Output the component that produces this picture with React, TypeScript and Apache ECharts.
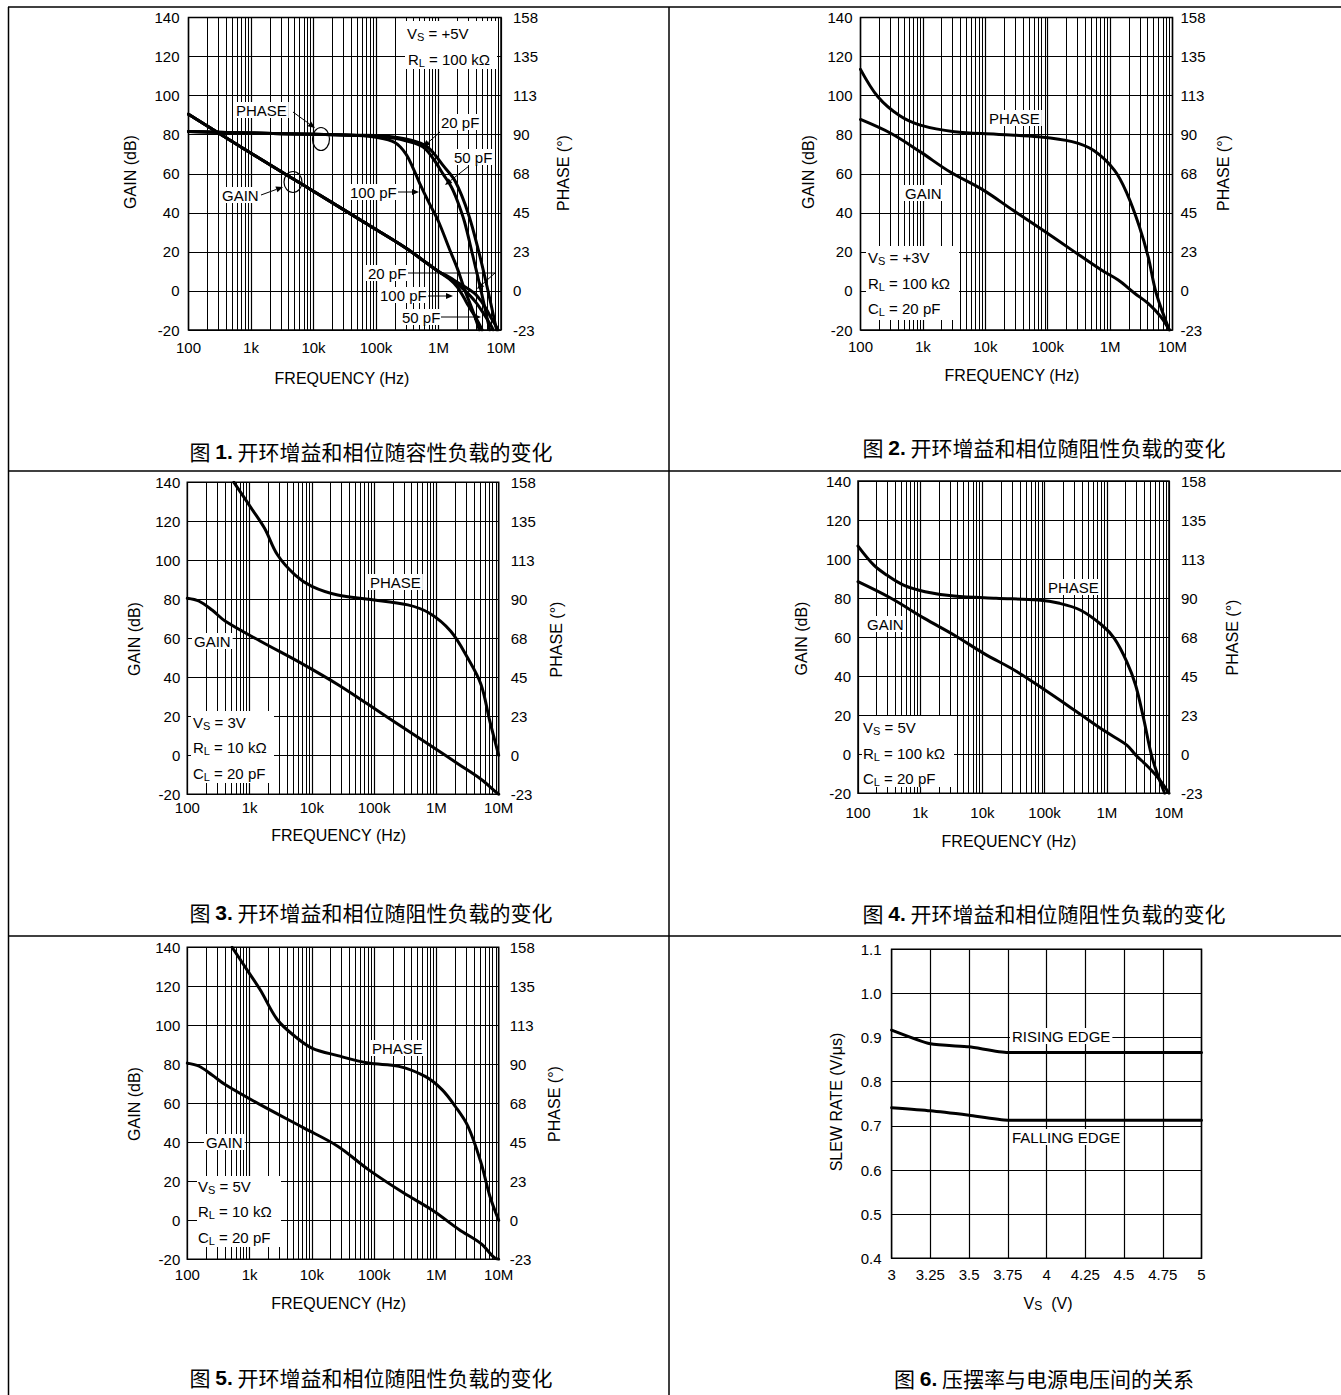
import React, { useEffect, useRef } from 'react';
import * as echarts from 'echarts';

const FONT = '"Liberation Sans", Arial, Helvetica, sans-serif';
const CJK = '"Noto Sans CJK SC", "Noto Sans", sans-serif';

// ---------- tick labels ----------
const FREQ_TICKS = [100, 1e3, 1e4, 1e5, 1e6, 1e7];
const FREQ_TICK_LABELS = ['100', '1k', '10k', '100k', '1M', '10M'];
const MINOR_FREQS = [
  200, 300, 400, 500, 600, 700, 800, 900,
  2e3, 3e3, 4e3, 5e3, 6e3, 7e3, 8e3, 9e3,
  2e4, 3e4, 4e4, 5e4, 6e4, 7e4, 8e4, 9e4,
  2e5, 3e5, 4e5, 5e5, 6e5, 7e5, 8e5, 9e5,
  2e6, 3e6, 4e6, 5e6, 6e6, 7e6, 8e6, 9e6,
];
const PHASE_TICK_LABELS = ['-23', '0', '23', '45', '68', '90', '113', '135', '158'];

// ---------- Figure 1 (capacitive load) : [Hz, dB] / [Hz, deg] ----------
const P1_GAIN_20PF: [number, number][] = [[100, 90.5], [1e3, 70.5], [1e4, 51], [1e5, 31.5], [3e5, 22], [7e5, 13.5], [1e6, 10], [1.5e6, 7], [2e6, 4.5], [3e6, 1], [4e6, -2], [5e6, -6], [6e6, -10], [7e6, -14], [8e6, -17], [9e6, -20]];
const P1_GAIN_50PF: [number, number][] = [[100, 90.5], [1e3, 70.5], [1e4, 51], [1e5, 31.5], [3e5, 22], [7e5, 13.5], [1e6, 10], [1.5e6, 6.5], [2e6, 3.5], [3e6, -1.5], [4e6, -6], [5e6, -10.5], [6e6, -14.5], [7e6, -18], [7.5e6, -20]];
const P1_GAIN_100PF: [number, number][] = [[100, 90.5], [1e3, 70.5], [1e4, 51], [1e5, 31.5], [3e5, 22], [7e5, 13.5], [1e6, 10], [1.5e6, 6], [2e6, 2], [2.5e6, -3], [3e6, -7.5], [4e6, -14], [5e6, -20]];
const P1_PHASE_20PF: [number, number][] = [[100, 91.8], [1e3, 91], [1e4, 90.2], [5e4, 89.6], [1e5, 89.3], [2e5, 88], [3e5, 86.5], [5.6e5, 83], [8.3e5, 76], [1.2e6, 67], [1.6e6, 60], [2e6, 52], [2.6e6, 40], [3.5e6, 21], [4.8e6, 0], [6.6e6, -22.5]];
const P1_PHASE_50PF: [number, number][] = [[100, 91.8], [1e3, 91], [1e4, 90.2], [5e4, 89.7], [1e5, 89.5], [3e5, 87.5], [6e5, 84], [8.3e5, 79.5], [1.2e6, 72], [1.86e6, 63], [3e6, 44.5], [4.5e6, 21.3], [6.2e6, 0], [8.5e6, -22.5]];
const P1_PHASE_100PF: [number, number][] = [[100, 91.8], [1e3, 91], [1e4, 90.2], [5e4, 89.5], [1e5, 88.5], [2e5, 85.5], [3e5, 79], [4e5, 70], [5e5, 62], [7e5, 51], [1e6, 40], [1.5e6, 24], [2e6, 13], [2.6e6, 1], [3.5e6, -11], [4.5e6, -22.5]];

// ---------- Figure 2 (Vs=+3V, RL=100k, CL=20pF) ----------
const P2_GAIN: [number, number][] = [[100, 87.8], [310, 80.6], [910, 71.2], [2.7e3, 61], [9.3e3, 51.6], [2.75e4, 41.4], [8.3e4, 31.2], [2.45e5, 20.9], [7.25e5, 10.7], [1.35e6, 5.6], [2.5e6, -1.3], [4.07e6, -6.4], [6.5e6, -13.2], [8.9e6, -20]];
const P2_PHASE: [number, number][] = [[100, 127.6], [190, 111.8], [420, 101], [910, 95.5], [3.2e3, 91.7], [1.5e4, 90.3], [7.2e4, 88.8], [2.45e5, 86], [5.4e5, 81], [1.17e6, 69.6], [1.86e6, 56.2], [2.95e6, 37], [4.07e6, 19.7], [5.5e6, -1.5], [8.9e6, -22.5]];

// ---------- Figure 3 (Vs=3V, RL=10k, CL=20pF) ----------
const P3_GAIN: [number, number][] = [[100, 80.5], [155, 79], [250, 74.5], [410, 68.7], [1.5e3, 58.5], [7.4e3, 46.5], [2.6e4, 36.3], [8.1e4, 26], [2.95e5, 14.1], [9.1e5, 3.9], [2.3e6, -4.7], [5.2e6, -12.3], [9.3e6, -19.2], [1e7, -20]];
const P3_PHASE: [number, number][] = [[560, 157.5], [1.07e3, 142.5], [1.74e3, 131], [2.8e3, 115.7], [5.4e3, 104], [1e4, 97.5], [2.6e4, 92.5], [8.1e4, 90], [3.47e5, 86.8], [7.76e5, 82], [1.7e6, 71.6], [3.2e6, 56], [5.2e6, 40.9], [7.2e6, 19.7], [1e7, 0]];

// ---------- Figure 4 (Vs=5V, RL=100k, CL=20pF) ----------
const P4_GAIN: [number, number][] = [[100, 88.4], [340, 79.9], [1.17e3, 69.6], [3.5e3, 61.1], [1.05e4, 51.7], [3.6e4, 42.3], [1.1e5, 32.1], [3.24e5, 21.9], [9.55e5, 11.6], [2.1e6, 4.7], [2.9e6, -0.3], [4.6e6, -6.4], [6.8e6, -12.4], [1e7, -20]];
const P4_PHASE: [number, number][] = [[100, 120], [180, 109], [290, 103.3], [540, 97.5], [1.2e3, 93.7], [3.5e3, 91.2], [1.66e4, 89.9], [7.9e4, 88.9], [1.74e5, 87], [3.8e5, 83], [8.3e5, 74.5], [1.32e6, 66.8], [2.1e6, 53.3], [2.9e6, 39.9], [3.9e6, 20.7], [5.4e6, -2.4], [8.5e6, -22.5]];

// ---------- Figure 5 (Vs=5V, RL=10k, CL=20pF) ----------
const P5_GAIN: [number, number][] = [[100, 80.6], [155, 79], [250, 74.5], [410, 69.5], [1.48e3, 59.3], [7.4e3, 47.4], [2.6e4, 38], [8.1e4, 26], [2.95e5, 14.1], [9.1e5, 4.7], [2.3e6, -4.7], [5.2e6, -12], [8.5e6, -19.2], [1e7, -20]];
const P5_PHASE: [number, number][] = [[525, 157.5], [910, 144.5], [1.48e3, 133], [2.8e3, 115.7], [5.4e3, 106], [1e4, 99.4], [2.6e4, 95], [8.1e4, 90.7], [2.5e5, 88.8], [6.6e5, 83], [1.23e6, 75.4], [2e6, 65.8], [3.2e6, 54.3], [5.2e6, 33.2], [7.2e6, 14], [1e7, 0]];

// ---------- Figure 6 (slew rate vs supply) ----------
const P6_RISING: [number, number][] = [[3, 0.917], [3.25, 0.886], [3.5, 0.879], [3.75, 0.866], [4, 0.866], [4.25, 0.866], [4.5, 0.866], [4.75, 0.866], [5, 0.866]];
const P6_FALLING: [number, number][] = [[3, 0.741], [3.25, 0.734], [3.5, 0.724], [3.75, 0.713], [4, 0.713], [4.25, 0.713], [4.5, 0.713], [4.75, 0.713], [5, 0.713]];

// ---------- captions ----------
const CAPTIONS = [
  { n: '1.', t: '开环增益和相位随容性负载的变化', x: 371, y: 451 },
  { n: '2.', t: '开环增益和相位随阻性负载的变化', x: 1044, y: 447 },
  { n: '3.', t: '开环增益和相位随阻性负载的变化', x: 371, y: 912 },
  { n: '4.', t: '开环增益和相位随阻性负载的变化', x: 1044, y: 913 },
  { n: '5.', t: '开环增益和相位随阻性负载的变化', x: 371, y: 1377 },
  { n: '6.', t: '压摆率与电源电压间的关系', x: 1044, y: 1378 },
];

// ---------- layout ----------
const PANELS = [
  { left: 188.5, top: 17.5, width: 312.5, height: 312.5, xm: 10, lm: 9, rm: 12 },
  { left: 860.5, top: 17.5, width: 312, height: 312.5, xm: 9, lm: 8, rm: 8 },
  { left: 187.3, top: 482.3, width: 311.4, height: 312, xm: 6, lm: 7, rm: 12 },
  { left: 858, top: 481, width: 311, height: 312.3, xm: 12, lm: 7, rm: 12 },
  { left: 187.3, top: 947.3, width: 311.4, height: 312, xm: 8, lm: 7, rm: 11 },
  { left: 891.6, top: 949.3, width: 309.9, height: 309, xm: 9, lm: 10, rm: 0 },
];

const AXIS_TITLES = [
  { g: [130, 172], p: [563, 173], f: [342, 378] },
  { g: [808.6, 172], p: [1223.8, 173], f: [1012, 375] },
  { g: [134.4, 639], p: [556.4, 639.5], f: [338.7, 835.7] },
  { g: [801.4, 638.5], p: [1232, 637.5], f: [1009, 841.7] },
  { g: [134.4, 1104], p: [554.2, 1104], f: [338.7, 1303] },
];

const RICH = {
  a: { fontSize: 15, fontFamily: FONT, fill: '#000', lineHeight: 18, verticalAlign: 'middle' },
  s: { fontSize: 11, fontFamily: FONT, fill: '#000', lineHeight: 11, verticalAlign: 'bottom' },
};

function txtStyle(extra: any) {
  return {
    fill: '#000',
    fontFamily: FONT,
    fontSize: 15,
    align: 'left',
    textAlign: 'left',
    verticalAlign: 'middle',
    textVerticalAlign: 'middle',
    ...extra,
  };
}

function plain(x: number, y: number, text: string, bg = true, extra: any = {}) {
  return {
    type: 'text', x, y, z: 62, silent: true,
    style: txtStyle({
      text,
      ...(bg ? { backgroundColor: '#fff', padding: [1, 2, 0, 2] } : {}),
      ...extra,
    }),
  };
}

function subText(x: number, y: number, main: string, sub: string, rest: string, bg = false) {
  return {
    type: 'text', x, y, z: 62, silent: true,
    style: txtStyle({
      text: `{a|${main}}{s|${sub}}{a|${rest}}`,
      rich: RICH,
      ...(bg ? { backgroundColor: '#fff', padding: [1, 2, 0, 2] } : {}),
    }),
  };
}

function whiteRect(x1: number, y1: number, x2: number, y2: number) {
  return { type: 'rect', z: 61, silent: true, shape: { x: x1, y: y1, width: x2 - x1, height: y2 - y1 }, style: { fill: '#fff' } };
}

function arrow(x1: number, y1: number, x2: number, y2: number, head = 7) {
  const a = Math.atan2(y2 - y1, x2 - x1);
  const hx = x2 - head * Math.cos(a);
  const hy = y2 - head * Math.sin(a);
  const px = -Math.sin(a) * 3;
  const py = Math.cos(a) * 3;
  return [
    { type: 'line', z: 63, silent: true, shape: { x1, y1, x2: hx, y2: hy }, style: { stroke: '#000', lineWidth: 1 } },
    { type: 'polygon', z: 63, silent: true, shape: { points: [[x2, y2], [hx + px, hy + py], [hx - px, hy - py]] }, style: { fill: '#000' } },
  ];
}

function seg(x1: number, y1: number, x2: number, y2: number, w = 1) {
  return { type: 'line', z: 63, silent: true, shape: { x1, y1, x2, y2 }, style: { stroke: '#000', lineWidth: w } };
}

function buildOption() {
  const grid = PANELS.map((p) => ({
    left: p.left, top: p.top, width: p.width, height: p.height,
    show: true, borderColor: '#000', borderWidth: 1.5, backgroundColor: 'rgba(0,0,0,0)',
  }));

  const labelBase = { fontSize: 15, fontFamily: FONT, color: '#000' };
  const xAxis: any[] = [];
  const yAxis: any[] = [];
  for (let i = 0; i < 5; i++) {
    const p = PANELS[i];
    xAxis.push({
      type: 'log', logBase: 10, min: 100, max: 1e7, gridIndex: i,
      axisLine: { show: false }, axisTick: { show: false },
      splitLine: { show: true, lineStyle: { color: '#000', width: 1.2 } },
      axisLabel: {
        ...labelBase, margin: p.xm,
        formatter: (v: number) => {
          const k = FREQ_TICKS.findIndex((t) => Math.abs(t - v) / t < 1e-6);
          return k >= 0 ? FREQ_TICK_LABELS[k] : '';
        },
      },
    });
    yAxis.push({
      type: 'value', gridIndex: i, position: 'left', min: -20, max: 140, interval: 20,
      axisLine: { show: false }, axisTick: { show: false },
      splitLine: { show: true, lineStyle: { color: '#000', width: 1 } },
      axisLabel: { ...labelBase, margin: p.lm },
    });
    yAxis.push({
      type: 'value', gridIndex: i, position: 'right', min: -22.5, max: 157.5, interval: 22.5,
      axisLine: { show: false }, axisTick: { show: false }, splitLine: { show: false },
      axisLabel: {
        ...labelBase, margin: p.rm,
        formatter: (v: number) => PHASE_TICK_LABELS[Math.round((v + 22.5) / 22.5)] ?? '',
      },
    });
  }
  xAxis.push({
    type: 'value', gridIndex: 5, min: 3, max: 5, interval: 0.25,
    axisLine: { show: false }, axisTick: { show: false },
    splitLine: { show: true, lineStyle: { color: '#000', width: 1.2 } },
    axisLabel: { ...labelBase, margin: PANELS[5].xm, formatter: (v: number) => String(+v.toFixed(2)) },
  });
  yAxis.push({
    type: 'value', gridIndex: 5, min: 0.4, max: 1.1, interval: 0.1,
    axisLine: { show: false }, axisTick: { show: false },
    splitLine: { show: true, lineStyle: { color: '#000', width: 1.2 } },
    axisLabel: { ...labelBase, margin: PANELS[5].lm, formatter: (v: number) => v.toFixed(1) },
  });

  const minorMarks = {
    silent: true,
    symbol: ['none', 'none'],
    label: { show: false },
    emphasis: { disabled: true },
    lineStyle: { color: '#000', width: 1, type: 'solid' },
    data: MINOR_FREQS.map((f) => ({ xAxis: f })),
  };

  const line = (name: string, data: [number, number][], xi: number, yi: number, withMinor = false, width = 3) => ({
    type: 'line', name, data, xAxisIndex: xi, yAxisIndex: yi,
    symbol: 'none', showSymbol: false, smooth: 0.35,
    lineStyle: { color: '#000', width, join: 'round', cap: 'round' }, itemStyle: { color: '#000' },
    silent: true, z: 3,
    ...(withMinor ? { markLine: minorMarks } : {}),
  });

  const series: any[] = [
    line('Gain 20 pF', P1_GAIN_20PF, 0, 0, true),
    line('Gain 50 pF', P1_GAIN_50PF, 0, 0),
    line('Gain 100 pF', P1_GAIN_100PF, 0, 0),
    line('Phase 20 pF', P1_PHASE_20PF, 0, 1),
    line('Phase 50 pF', P1_PHASE_50PF, 0, 1),
    line('Phase 100 pF', P1_PHASE_100PF, 0, 1),
    line('Gain', P2_GAIN, 1, 2, true),
    line('Phase', P2_PHASE, 1, 3),
    line('Gain', P3_GAIN, 2, 4, true),
    line('Phase', P3_PHASE, 2, 5),
    line('Gain', P4_GAIN, 3, 6, true),
    line('Phase', P4_PHASE, 3, 7),
    line('Gain', P5_GAIN, 4, 8, true),
    line('Phase', P5_PHASE, 4, 9),
    { ...line('Rising edge', P6_RISING, 5, 10), smooth: 0.2 },
    { ...line('Falling edge', P6_FALLING, 5, 10), smooth: 0.2 },
  ];

  const g: any[] = [];
  // table borders
  const border = (x1: number, y1: number, x2: number, y2: number) => ({
    type: 'line', z: 70, silent: true, shape: { x1, y1, x2, y2 }, style: { stroke: '#000', lineWidth: 1.5 },
  });
  g.push(border(8, 7, 1341, 7), border(8.5, 7, 8.5, 1395), border(669, 7, 669, 1395), border(8, 471, 1341, 471), border(8, 936, 1341, 936));

  // captions
  CAPTIONS.forEach((c) => {
    g.push({
      type: 'text', x: c.x, y: c.y, z: 62, silent: true,
      style: {
        text: `{a|图 }{b|${c.n}}{a| ${c.t}}`,
        rich: {
          a: { fontFamily: CJK, fontSize: 21, fill: '#000' },
          b: { fontFamily: FONT, fontSize: 21, fontWeight: 'bold', fill: '#000' },
        },
        align: 'center', textAlign: 'center', verticalAlign: 'middle', textVerticalAlign: 'middle',
      },
    });
  });

  // axis titles
  const rotTitle = (x: number, y: number, text: string) => ({
    type: 'text', x, y, rotation: Math.PI / 2, z: 62, silent: true,
    style: txtStyle({ text, fontSize: 16, align: 'center', textAlign: 'center' }),
  });
  const hTitle = (x: number, y: number, text: string) => ({
    type: 'text', x, y, z: 62, silent: true,
    style: txtStyle({ text, fontSize: 16, align: 'center', textAlign: 'center' }),
  });
  AXIS_TITLES.forEach((t) => {
    g.push(rotTitle(t.g[0], t.g[1], 'GAIN (dB)'));
    g.push(rotTitle(t.p[0], t.p[1], 'PHASE (°)'));
    g.push(hTitle(t.f[0], t.f[1], 'FREQUENCY (Hz)'));
  });
  g.push(rotTitle(836, 1102, 'SLEW RATE (V/μs)'));
  g.push({
    type: 'text', x: 1048, y: 1303, z: 62, silent: true,
    style: txtStyle({
      text: '{a|V}{s|S}{a|  (V)}',
      rich: { a: { ...RICH.a, fontSize: 16 }, s: { ...RICH.s, fontSize: 12 } },
      align: 'center', textAlign: 'center',
    }),
  });

  // ---- Figure 1 annotations ----
  g.push(whiteRect(405, 21, 497, 69));
  g.push(subText(407, 33, 'V', 'S', ' = +5V'));
  g.push(subText(408, 59, 'R', 'L', ' = 100 kΩ'));
  g.push(plain(234, 110, 'PHASE'));
  g.push(...arrow(293, 112, 315, 128));
  g.push({ type: 'ellipse', z: 63, silent: true, shape: { cx: 321, cy: 139, rx: 8.5, ry: 11.5 }, style: { fill: 'none', stroke: '#000', lineWidth: 1.2 } });
  g.push(plain(220, 195, 'GAIN'));
  g.push(...arrow(261, 195, 283, 187));
  g.push({ type: 'ellipse', z: 63, silent: true, shape: { cx: 293, cy: 182, rx: 9, ry: 10.5 }, style: { fill: 'none', stroke: '#000', lineWidth: 1.2 } });
  g.push(plain(439, 122, '20 pF'));
  g.push(...arrow(440, 132, 423, 147));
  g.push(plain(452, 157, '50 pF'));
  g.push(...arrow(469, 166, 445, 185));
  g.push(plain(348, 192, '100 pF'));
  g.push(...arrow(398, 192, 419, 192));
  g.push(plain(366, 273, '20 pF'));
  g.push(seg(408, 273, 495, 273));
  g.push(...arrow(495, 273, 477, 289));
  g.push(plain(378, 295, '100 pF'));
  g.push(...arrow(428, 296, 453, 296));
  g.push(plain(400, 317, '50 pF'));
  g.push(...arrow(441, 317, 481, 317));

  // ---- Figure 2 ----
  g.push(plain(987, 118, 'PHASE'));
  g.push(plain(903, 193, 'GAIN'));
  g.push(whiteRect(866, 246, 959, 320));
  g.push(subText(868, 257, 'V', 'S', ' = +3V'));
  g.push(subText(868, 283, 'R', 'L', ' = 100 kΩ'));
  g.push(subText(868, 308, 'C', 'L', ' = 20 pF'));

  // ---- Figure 3 ----
  g.push(plain(368, 582, 'PHASE'));
  g.push(plain(192, 641, 'GAIN'));
  g.push(whiteRect(191, 711, 274, 783));
  g.push(subText(193, 722, 'V', 'S', ' = 3V'));
  g.push(subText(193, 747, 'R', 'L', ' = 10 kΩ'));
  g.push(subText(193, 773, 'C', 'L', ' = 20 pF'));

  // ---- Figure 4 ----
  g.push(plain(1046, 587, 'PHASE'));
  g.push(plain(865, 624, 'GAIN'));
  g.push(whiteRect(862, 716, 954, 787));
  g.push(subText(863, 727, 'V', 'S', ' = 5V'));
  g.push(subText(863, 753, 'R', 'L', ' = 100 kΩ'));
  g.push(subText(863, 778, 'C', 'L', ' = 20 pF'));

  // ---- Figure 5 ----
  g.push(plain(370, 1048, 'PHASE'));
  g.push(plain(204, 1142, 'GAIN'));
  g.push(whiteRect(197, 1176, 281, 1247));
  g.push(subText(198, 1186, 'V', 'S', ' = 5V'));
  g.push(subText(198, 1211, 'R', 'L', ' = 10 kΩ'));
  g.push(subText(198, 1237, 'C', 'L', ' = 20 pF'));

  // ---- Figure 6 ----
  g.push(plain(1010, 1036, 'RISING EDGE'));
  g.push(plain(1010, 1137, 'FALLING EDGE'));

  return {
    animation: false,
    backgroundColor: '#fff',
    grid,
    xAxis,
    yAxis,
    series,
    graphic: { elements: g },
  };
}

export default function App() {
  const ref = useRef<HTMLDivElement>(null);
  useEffect(() => {
    const chart = echarts.init(ref.current!, null, { renderer: 'svg' });
    chart.setOption(buildOption() as any);
    return () => chart.dispose();
  }, []);
  return (
    <div
      ref={ref}
      style={{ position: 'absolute', left: 0, top: 0, width: 1341, height: 1395, background: '#fff' }}
    />
  );
}
